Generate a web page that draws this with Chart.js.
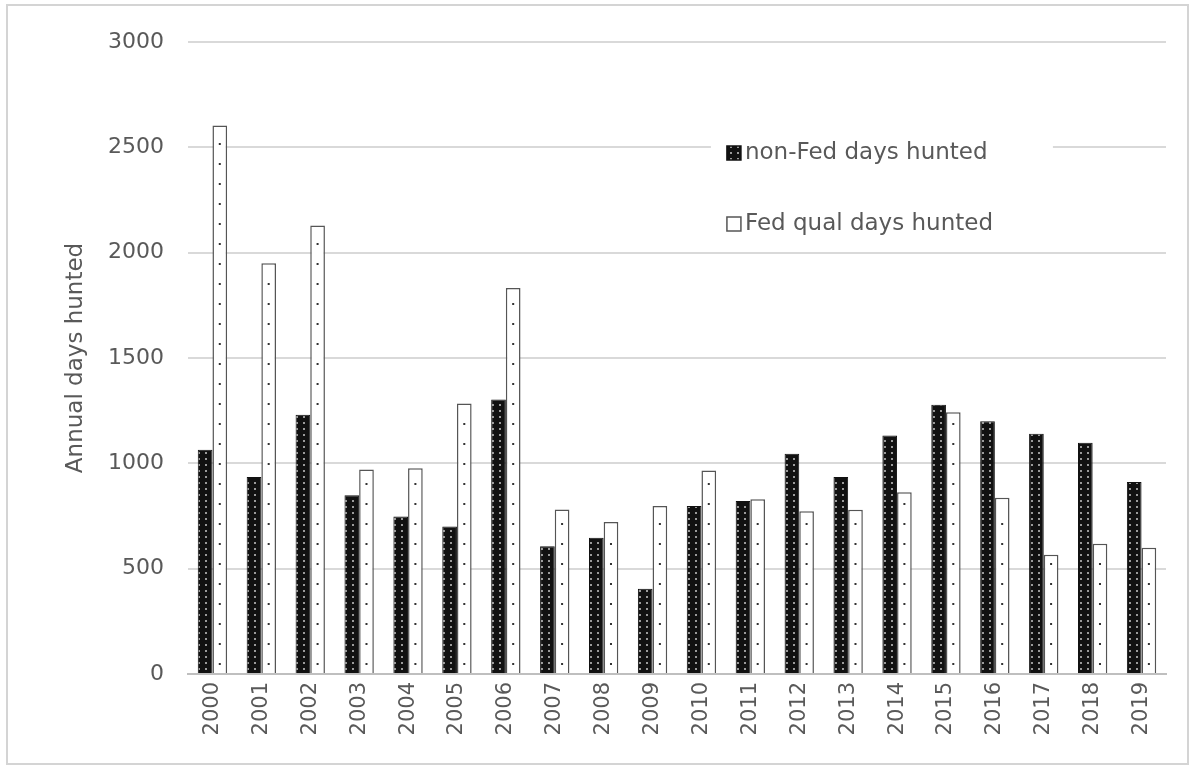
<!DOCTYPE html>
<html>
<head>
<meta charset="utf-8">
<script src="https://cdn.jsdelivr.net/npm/chart.js@4.4.1/dist/chart.umd.min.js"></script>
<style>
  html, body { margin: 0; padding: 0; background: #fff; }
  #wrap { position: relative; width: 1195px; height: 770px; }
</style>
</head>
<body>
<div id="wrap"><canvas id="chart" width="1195" height="770"></canvas></div>
<script>
const years = ['2000', '2001', '2002', '2003', '2004', '2005', '2006', '2007', '2008', '2009',
               '2010', '2011', '2012', '2013', '2014', '2015', '2016', '2017', '2018', '2019'];
const nonFedDays = [1065, 935, 1231, 848, 748, 700, 1303, 607, 647, 405,
                    797, 821, 1046, 935, 1132, 1278, 1200, 1140, 1098, 911];
const fedQualDays = [2604, 1950, 2129, 971, 977, 1284, 1832, 781, 721, 797,
                     966, 830, 772, 780, 863, 1243, 837, 566, 618, 599];
const seriesNames = ['non-Fed days hunted', 'Fed qual days hunted'];
const yTicks = [0, 500, 1000, 1500, 2000, 2500, 3000];

const textColor = '#595959';
const fontFamily = '"DejaVu Sans", sans-serif';

// black fill with light dots
function dottedBlack() {
    const c = document.createElement('canvas');
    c.width = 7; c.height = 6;
    const g = c.getContext('2d');
    g.fillStyle = '#111';
    g.fillRect(0, 0, 7, 6);
    g.fillStyle = '#9a9a9a';
    g.fillRect(2, 2, 2, 2);
    return g.createPattern(c, 'repeat');
}

const outerBorder = {
    id: 'outerBorder',
    beforeDraw(chart) {
        const ctx = chart.ctx;
        ctx.save();
        ctx.strokeStyle = '#d4d4d4';
        ctx.lineWidth = 2;
        ctx.strokeRect(7, 5, 1181, 759);
        ctx.restore();
    }
};

// dots down the middle of the white bars
const fedDots = {
    id: 'fedDots',
    afterDatasetsDraw(chart) {
        const ctx = chart.ctx;
        const meta = chart.getDatasetMeta(1);
        ctx.save();
        ctx.fillStyle = '#333';
        meta.data.forEach(bar => {
            for (let y = bar.base - 10; y > bar.y + 6; y -= 20) {
                ctx.fillRect(bar.x - 1, y, 2, 2);
            }
        });
        ctx.restore();
    }
};

const insideLegend = {
    id: 'insideLegend',
    afterDraw(chart) {
        const ctx = chart.ctx;
        const area = chart.chartArea;
        const x = area.left + (area.right - area.left) * 0.549;
        const top = area.top + 84;
        ctx.save();
        ctx.fillStyle = '#fff';
        ctx.fillRect(x - 14, top, 342, 126);
        ctx.font = '23px ' + fontFamily;
        ctx.textBaseline = 'middle';
        const rows = [top + 27, top + 98];
        rows.forEach((cy, i) => {
            const ds = chart.data.datasets[i];
            ctx.fillStyle = ds.backgroundColor;
            ctx.fillRect(x + 2, cy - 7, 14, 14);
            ctx.strokeStyle = i === 0 ? '#111' : '#555';
            ctx.lineWidth = 1.5;
            ctx.strokeRect(x + 2, cy - 7, 14, 14);
            ctx.fillStyle = textColor;
            ctx.fillText(seriesNames[i], x + 20, cy);
        });
        ctx.restore();
    }
};

const ctx = document.getElementById('chart').getContext('2d');

new Chart(ctx, {
    type: 'bar',
    data: {
        labels: years,
        datasets: [{
            label: seriesNames[0],
            data: nonFedDays,
            backgroundColor: dottedBlack(),
            borderColor: '#111',
            borderWidth: 1,
            categoryPercentage: 0.6,
            barPercentage: 1.0
        }, {
            label: seriesNames[1],
            data: fedQualDays,
            backgroundColor: '#ffffff',
            borderColor: '#555',
            borderWidth: 1.5,
            categoryPercentage: 0.6,
            barPercentage: 1.0
        }]
    },
    options: {
        responsive: false,
        animation: false,
        layout: {
            padding: { top: 42, right: 29, bottom: 0, left: 62 }
        },
        plugins: {
            legend: { display: false },
            tooltip: { enabled: false }
        },
        scales: {
            x: {
                grid: { display: false, drawTicks: false },
                border: { display: true, color: '#bfbfbf', width: 2 },
                ticks: {
                    color: textColor,
                    font: { family: fontFamily, size: 21 },
                    minRotation: 90,
                    maxRotation: 90,
                    padding: 8,
                    autoSkip: false
                },
                afterFit(scale) {
                    scale.height = 96;
                }
            },
            y: {
                min: 0,
                max: 3000,
                afterBuildTicks(scale) {
                    scale.ticks = yTicks.map(v => ({ value: v }));
                },
                grid: { color: '#d9d9d9', lineWidth: 2, drawTicks: false },
                border: { display: false },
                ticks: {
                    color: textColor,
                    font: { family: fontFamily, size: 22 },
                    padding: 24,
                    callback: value => String(value)
                },
                title: {
                    display: true,
                    text: 'Annual days hunted',
                    color: textColor,
                    font: { family: fontFamily, size: 23 },
                    padding: 0
                },
                afterFit(scale) {
                    scale.width = 126;
                }
            }
        }
    },
    plugins: [outerBorder, fedDots, insideLegend]
});
</script>
</body>
</html>
